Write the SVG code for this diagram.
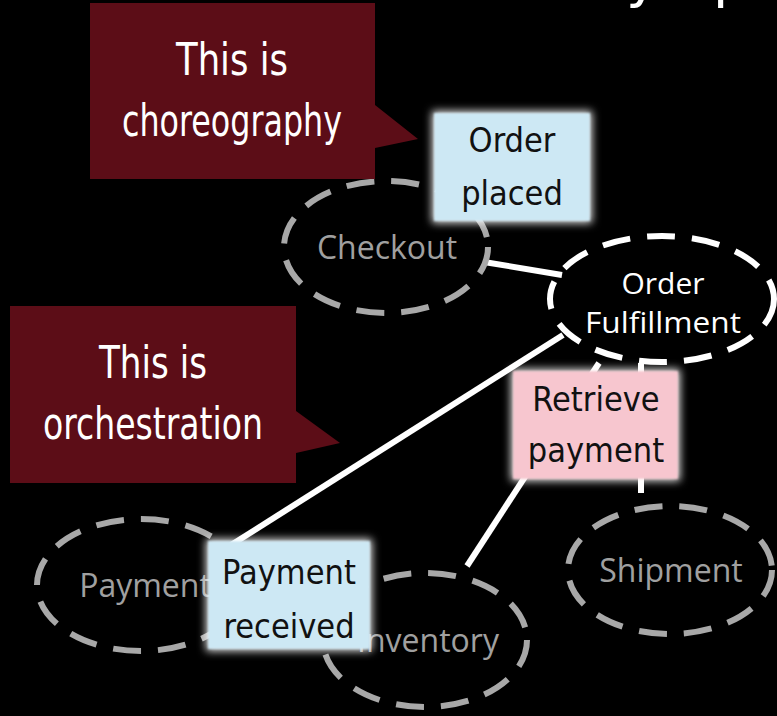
<svg xmlns="http://www.w3.org/2000/svg" width="777" height="716" viewBox="0 0 777 716">
  <defs>
    <filter id="glow" x="-20%" y="-20%" width="140%" height="140%">
      <feMorphology in="SourceAlpha" operator="dilate" radius="2" result="grow"/>
      <feGaussianBlur in="grow" stdDeviation="4" result="soft"/>
      <feFlood flood-color="#ffffff" flood-opacity="0.9"/>
      <feComposite in2="soft" operator="in" result="halo"/>
      <feGaussianBlur in="SourceGraphic" stdDeviation="1.2" result="body"/>
      <feMerge>
        <feMergeNode in="halo"/>
        <feMergeNode in="body"/>
      </feMerge>
    </filter>
  </defs>
  <style>
    .svc { fill: none; stroke: #a8a8a8; stroke-width: 6; stroke-dasharray: 28 17; }
    .svc-main { fill: none; stroke: #ffffff; stroke-width: 6; stroke-dasharray: 28 17; }
    .svc-label { font-family: "Open Sans", "Noto Sans", sans-serif; font-size: 32px; fill: #a0a0a0; text-anchor: middle; }
    .main-label { font-family: "Open Sans", "Noto Sans", sans-serif; font-size: 30px; fill: #ffffff; text-anchor: middle; }
    .link { stroke: #ffffff; stroke-width: 6; fill: none; }
    .callout { fill: #5c0d17; }
    .callout-text { font-family: "DejaVu Sans Condensed", "DejaVu Sans", sans-serif; font-size: 44px; fill: #ffffff; text-anchor: middle; }
    .note-text { font-family: "DejaVu Sans Condensed", "DejaVu Sans", sans-serif; font-size: 34px; fill: #111111; text-anchor: middle; }
    .event { fill: #cde8f4; }
    .command { fill: #f7c6cf; }
    .title { font-family: "DejaVu Sans", sans-serif; font-size: 56px; fill: #ffffff; }
  </style>

  <rect width="777" height="716" fill="#000000"/>

  <!-- slide title, running above the top edge -->
  <text class="title" x="626" y="-4">y</text>
  <text class="title" x="713" y="-4">p</text>

  <!-- connectors -->
  <g id="connectors">
    <path class="link" d="M484 262 L562 275"/>
    <path class="link" d="M563 335 L231 545"/>
    <path class="link" d="M599 363 L467 566"/>
    <path class="link" d="M641 363 L641 493"/>
  </g>

  <!-- services -->
  <g id="checkout">
    <ellipse class="svc" cx="386" cy="247" rx="102" ry="66"/>
    <text class="svc-label" x="387" y="259">Checkout</text>
  </g>
  <g id="order-fulfillment">
    <ellipse class="svc-main" cx="662" cy="299" rx="112" ry="63"/>
    <text class="main-label" x="663" y="294">Order</text>
    <text class="main-label" x="663" y="333" textLength="156" lengthAdjust="spacingAndGlyphs">Fulfillment</text>
  </g>
  <g id="payment">
    <ellipse class="svc" cx="141" cy="585" rx="104" ry="66"/>
    <text class="svc-label" x="145" y="597">Payment</text>
  </g>
  <g id="inventory">
    <ellipse class="svc" cx="425" cy="640" rx="102" ry="67"/>
    <text class="svc-label" x="428" y="652">Inventory</text>
  </g>
  <g id="shipment">
    <ellipse class="svc" cx="670" cy="570" rx="102" ry="64"/>
    <text class="svc-label" x="671" y="582">Shipment</text>
  </g>

  <!-- sticky notes -->
  <g id="order-placed">
    <rect class="event" x="434" y="113" width="156" height="108" filter="url(#glow)"/>
    <text class="note-text" x="512" y="152">Order</text>
    <text class="note-text" x="512" y="205">placed</text>
  </g>
  <g id="retrieve-payment">
    <rect class="command" x="513" y="371" width="165" height="108" filter="url(#glow)"/>
    <text class="note-text" x="596" y="411">Retrieve</text>
    <text class="note-text" x="596" y="462">payment</text>
  </g>
  <g id="payment-received">
    <rect class="event" x="208" y="541" width="162" height="108" filter="url(#glow)"/>
    <text class="note-text" x="289" y="584">Payment</text>
    <text class="note-text" x="289" y="638">received</text>
  </g>

  <!-- callouts -->
  <g id="callout-choreography">
    <path class="callout" d="M90 3 H375 V105 L418 139 L375 148 V179 H90 Z"/>
    <text class="callout-text" x="232" y="75" textLength="112" lengthAdjust="spacingAndGlyphs">This is</text>
    <text class="callout-text" x="232" y="136" textLength="220" lengthAdjust="spacingAndGlyphs">choreography</text>
  </g>
  <g id="callout-orchestration">
    <path class="callout" d="M10 306 H296 V411 L340 443 L296 453 V483 H10 Z"/>
    <text class="callout-text" x="153" y="378" textLength="108" lengthAdjust="spacingAndGlyphs">This is</text>
    <text class="callout-text" x="153" y="439" textLength="220" lengthAdjust="spacingAndGlyphs">orchestration</text>
  </g>
</svg>
